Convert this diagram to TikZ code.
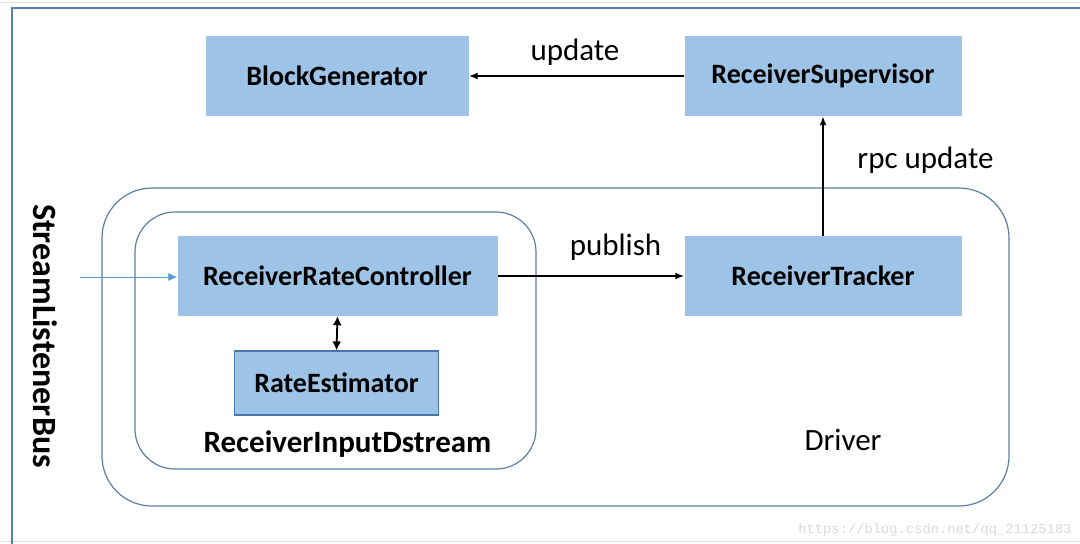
\documentclass[tikz,border=0pt]{standalone}
\usepackage{fontspec}
\setmainfont{Carlito}
\newfontfamily\wmfont{Liberation Mono}
\usetikzlibrary{arrows.meta}
\definecolor{boxblue}{HTML}{9DC3E6}
\definecolor{frameblue}{HTML}{5B7FA6}
\definecolor{inblue}{HTML}{5B9BD5}
\definecolor{estborder}{HTML}{4A76A8}
\tikzset{
  comp/.style={fill=boxblue, draw=none, minimum width=#1, minimum height=80pt, inner sep=0pt, font=\fontsize{28}{32}\selectfont\bfseries},
  container/.style={draw=frameblue, line width=1.2pt, rounded corners=#1},
  conn/.style={-{Latex[length=9pt,width=7pt]}, line width=1.8pt, black},
  lbl/.style={font=\fontsize{31}{36}\selectfont, inner sep=0pt},
}
\begin{document}
\begin{tikzpicture}[x=1pt,y=-1pt]
\useasboundingbox (0,0) rectangle (1080,544);
\fill[white] (0,0) rectangle (1080,544);
% faint page lines
\draw[gray!25, line width=1pt] (0,2) -- (1080,2);
\draw[gray!25, line width=1pt] (0,541) -- (1080,541);
% outer frame
\draw[frameblue, line width=1.2pt] (1080,8) -- (12,8) -- (12,544);
% containers
\draw[container=50pt] (102,188) rectangle (1009,506);
\draw[container=40pt] (135,212) rectangle (536,469);
% components
\node[comp=263pt] (bg) at (337,76) {BlockGenerator};
\node[comp=277pt] (rs) at (823,76) {ReceiverSupervisor};
\node[comp=320pt] (rrc) at (337.5,276) {ReceiverRateController};
\node[comp=277pt] (rt) at (823,276) {ReceiverTracker};
\node[comp=204pt, minimum height=64pt, draw=estborder, line width=1.2pt] (re) at (336.5,383) {RateEstimator};
% labels
\node[lbl] (lupd) at (575,52) {update};
\node[lbl] (lrpc) at (925.5,160) {rpc update};
\node[lbl] (lpub) at (615.5,247) {publish};
\node[lbl] (ldrv) at (843,440) {Driver};
\node[lbl, font=\fontsize{31}{36}\selectfont\bfseries] (lrid) at (347.5,444) {ReceiverInputDstream};
\node[lbl, font=\fontsize{34}{40}\selectfont\bfseries, rotate=-90] (slb) at (45,336) {StreamListenerBus};
\coordinate (src) at (80,277);
% connectors
\draw[conn] (rs.west) -- (bg.east);
\draw[conn] (rt.north) -- (rs.south);
\draw[conn] (rrc.east) -- (rt.west);
\draw[line width=1.8pt, {Latex[length=9pt,width=9pt]}-{Latex[length=9pt,width=9pt]}] (rrc.south) -- (re.north);
\draw[-{Latex[length=9pt,width=8pt]}, inblue, line width=0.8pt] (src) -- (src -| rrc.west);
% watermark
\node[text=gray!30, font=\wmfont\fontsize{13.8}{16}\selectfont, inner sep=0pt] (wm) at (935,530) {https://blog.csdn.net/qq\_21125183};
\end{tikzpicture}
\end{document}
